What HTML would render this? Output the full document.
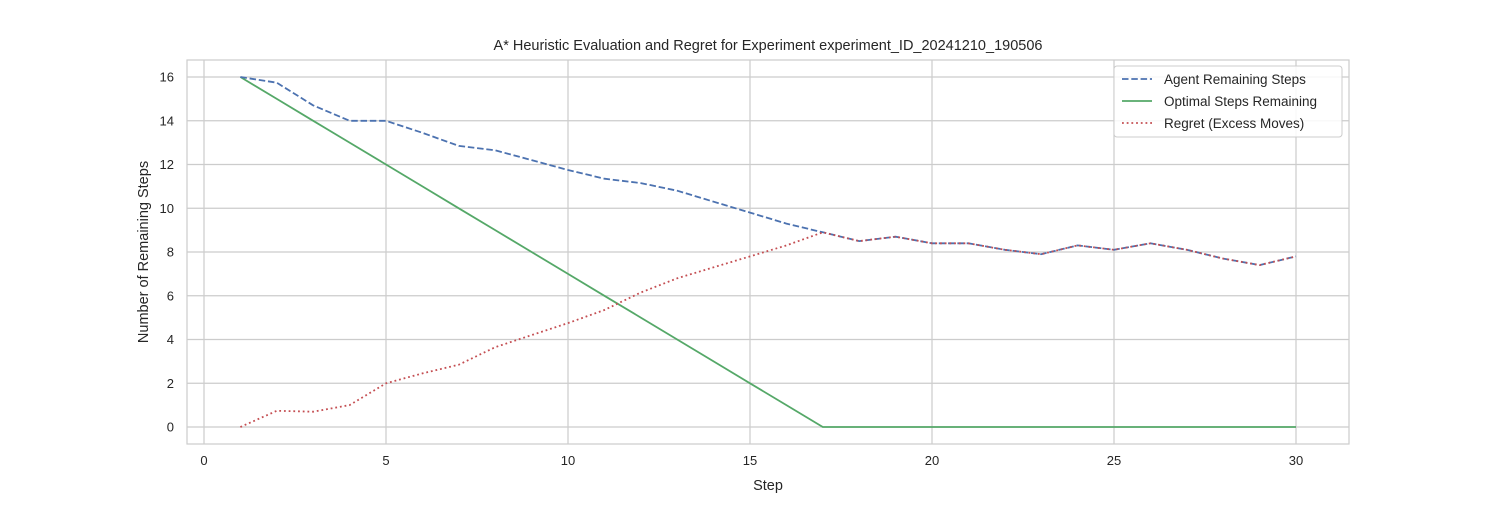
<!DOCTYPE html>
<html><head><meta charset="utf-8"><style>
body{margin:0;background:#fff;}
svg text{font-family:"Liberation Sans",sans-serif;fill:#262626;}
</style></head><body>
<svg id="chart" width="1500" height="500" xmlns="http://www.w3.org/2000/svg">
<rect width="1500" height="500" fill="#fff"/>
<g id="grid"></g>
<g id="series"></g>
<rect x="187" y="60" width="1162" height="384" fill="none" stroke="#ccc" stroke-width="1.2"/>
<g id="ticks"></g>
<text x="768" y="50" text-anchor="middle" font-size="14.5">A* Heuristic Evaluation and Regret for Experiment experiment_ID_20241210_190506</text>
<text x="768" y="490" text-anchor="middle" font-size="14.5">Step</text>
<text x="148" y="252" text-anchor="middle" font-size="14.5" transform="rotate(-90 148 252)">Number of Remaining Steps</text>
<g>
<rect x="1114" y="66" width="228" height="71" rx="3" fill="#fff" fill-opacity="0.85" stroke="#ccc"/>
<line x1="1122" y1="79" x2="1152" y2="79" stroke="#4c72b0" stroke-width="1.8" stroke-dasharray="6.5,2.8"/>
<text x="1164" y="84" font-size="13.5">Agent Remaining Steps</text>
<line x1="1122" y1="101" x2="1152" y2="101" stroke="#55a868" stroke-width="1.8"/>
<text x="1164" y="106" font-size="13.5">Optimal Steps Remaining</text>
<line x1="1122" y1="123" x2="1152" y2="123" stroke="#c44e52" stroke-width="1.8" stroke-dasharray="1.8,2.9"/>
<text x="1164" y="128" font-size="13.5">Regret (Excess Moves)</text>
</g>
</svg>
<script>
const steps=[1,2,3,4,5,6,7,8,9,10,11,12,13,14,15,16,17,18,19,20,21,22,23,24,25,26,27,28,29,30];
const agent=[16,15.74,14.7,14,14,13.45,12.85,12.65,12.2,11.75,11.35,11.15,10.8,10.3,9.8,9.3,8.9,8.5,8.7,8.4,8.4,8.1,7.9,8.3,8.1,8.4,8.1,7.7,7.4,7.8];
const optimal=[16,15,14,13,12,11,10,9,8,7,6,5,4,3,2,1,0,0,0,0,0,0,0,0,0,0,0,0,0,0];
const regret=[0,0.74,0.7,1,2,2.45,2.85,3.65,4.2,4.75,5.35,6.15,6.8,7.3,7.8,8.3,8.9,8.5,8.7,8.4,8.4,8.1,7.9,8.3,8.1,8.4,8.1,7.7,7.4,7.8];
const xTicks=[0,5,10,15,20,25,30];
const yTicks=[0,2,4,6,8,10,12,14,16];
const X=v=>204+v*36.4;
const Y=v=>427-v*21.875;
const NS="http://www.w3.org/2000/svg";
const grid=document.getElementById('grid'),ticks=document.getElementById('ticks'),ser=document.getElementById('series');
function mk(tag,attrs,parent){const e=document.createElementNS(NS,tag);for(const k in attrs)e.setAttribute(k,attrs[k]);parent.appendChild(e);return e;}
xTicks.forEach(t=>{
  const l=mk('line',{x1:X(t),x2:X(t),y1:60,y2:444,stroke:'#ccc','stroke-width':1.2},grid);
  
  
  const tx=mk('text',{x:X(t),y:465,'text-anchor':'middle','font-size':13},ticks);
  tx.textContent=t;
  
  
});
yTicks.forEach(t=>{
  const l=mk('line',{x1:187,x2:1349,y1:Y(t),y2:Y(t),stroke:'#ccc','stroke-width':1.2},grid);
  
  
  const tx=mk('text',{x:174,y:Y(t)+4.5,'text-anchor':'end','font-size':13},ticks);
  tx.textContent=t;
  
  
});
function line(vals,color,dash,name){
  const d=vals.map((v,i)=>(i?'L':'M')+X(steps[i]).toFixed(1)+','+Y(v).toFixed(1)).join(' ');
  const p=mk('path',{d:d,fill:'none',stroke:color,'stroke-width':1.8,'stroke-dasharray':dash},ser);
  
  
}
line(optimal,'#55a868','none','optimal-line');
line(agent,'#4c72b0','6.5,2.8','agent-line');
line(regret,'#c44e52','1.8,2.9','regret-line');
</script>
</body></html>
